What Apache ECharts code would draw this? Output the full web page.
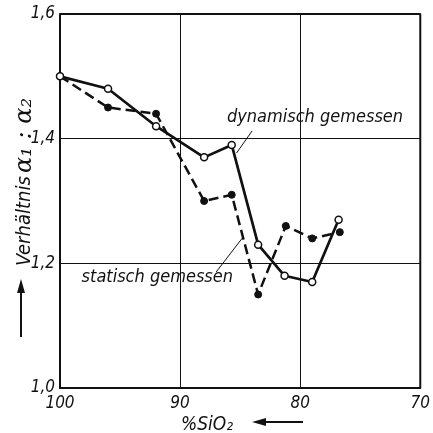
<!DOCTYPE html>
<html><head><meta charset="utf-8">
<script src="https://cdn.jsdelivr.net/npm/echarts@6/dist/echarts.min.js"></script>
<style>html,body{margin:0;padding:0;background:#fff}#c{width:433px;height:433px}</style>
</head><body><div id="c"></div>
<script>
const sio2 = [100, 96, 92, 88, 85.7, 83.5, 81.3, 79.0, 76.8];
const dynamisch = [1.50, 1.48, 1.42, 1.37, 1.39, 1.23, 1.18, 1.17, 1.27];
const sio2Static = [100, 96, 92, 88, 85.7, 83.5, 81.2, 79.0, 76.7];
const statisch = [1.50, 1.45, 1.44, 1.30, 1.31, 1.15, 1.26, 1.24, 1.25];
const xTicks = [70, 80, 90, 100];
const yTicks = [1.0, 1.2, 1.4, 1.6];
const labelDyn = 'dynamisch gemessen';
const labelStat = 'statisch gemessen';
const yTitleWord = 'Verhältnis';
const yTitleSym = 'α₁ : α₂';
const xTitle = '%SiO₂';

const FONT = '"Liberation Sans Narrow","DejaVu Sans Condensed","DejaVu Sans",sans-serif';
const chart = echarts.init(document.getElementById('c'));
const fmtY = v => (Math.round(v * 10) / 10).toFixed(1).replace('.', ',');
chart.setOption({
  animation: false,
  backgroundColor: '#fff',
  grid: { left: 60, right: 11, top: 14, bottom: 45, show: false },
  xAxis: {
    type: 'value', inverse: true, min: 70, max: 100, interval: 10,
    axisLine: { show: true, lineStyle: { color: '#111', width: 2 } },
    axisTick: { show: false },
    splitLine: { show: true, lineStyle: { color: '#111', width: 1 } },
    axisLabel: { fontFamily: FONT, fontStyle: 'italic', fontSize: 17, color: '#111', margin: 7,
      formatter: v => xTicks.includes(v) ? String(v) : '' }
  },
  yAxis: {
    type: 'value', min: 1.0, max: 1.6, interval: 0.2,
    axisLine: { show: true, lineStyle: { color: '#111', width: 2 } },
    axisTick: { show: false },
    splitLine: { show: true, lineStyle: { color: '#111', width: 1 } },
    axisLabel: { fontFamily: FONT, fontStyle: 'italic', fontSize: 17, color: '#111', margin: 5,
      formatter: v => yTicks.some(t => Math.abs(t - v) < 1e-6) ? fmtY(v) : '' }
  },
  series: [
    { type: 'line', name: labelStat, data: sio2Static.map((x, i) => [x, statisch[i]]),
      symbol: 'circle', symbolSize: 7,
      itemStyle: { color: '#111', borderColor: '#111', borderWidth: 1 },
      lineStyle: { color: '#111', width: 2.5, type: [10, 5] }, z: 3 },
    { type: 'line', name: labelDyn, data: sio2.map((x, i) => [x, dynamisch[i]]),
      symbol: 'circle', symbolSize: 7,
      itemStyle: { color: '#fff', borderColor: '#111', borderWidth: 1.5 },
      lineStyle: { color: '#111', width: 2.7 }, z: 4 },
    { type: 'line', data: [[100,1.6],[70,1.6],[70,1.0]], symbol: 'none', silent: true,
      lineStyle: { color: '#111', width: 2 }, z: 2 }
  ]
});

const p = (x, y) => chart.convertToPixel({ gridIndex: 0 }, [x, y]);
const dynLabelPos = p(86.1, 1.435);
const statLabelPos = p(98.2, 1.177);
const dynL1 = p(84.0, 1.4125), dynL2 = p(85.3, 1.377);
const statL1 = p(87.0, 1.186), statL2 = p(84.8, 1.241);
chart.setOption({
  graphic: [
    { type: 'text', x: dynLabelPos[0], y: dynLabelPos[1],
      style: { text: labelDyn, font: 'italic 18px ' + FONT, fill: '#111', verticalAlign: 'middle' } },
    { type: 'line', shape: { x1: dynL1[0], y1: dynL1[1], x2: dynL2[0], y2: dynL2[1] },
      style: { stroke: '#111', lineWidth: 1 } },
    { type: 'text', x: statLabelPos[0], y: statLabelPos[1],
      style: { text: labelStat, font: 'italic 18px ' + FONT, fill: '#111', verticalAlign: 'middle' } },
    { type: 'line', shape: { x1: statL1[0], y1: statL1[1], x2: statL2[0], y2: statL2[1] },
      style: { stroke: '#111', lineWidth: 1 } },
    // y title with arrow
    { type: 'text', x: 25, y: 182, rotation: Math.PI / 2,
      style: { text: '{w|' + yTitleWord + '} {s|' + yTitleSym + '}', align: 'center', verticalAlign: 'middle',
        rich: { w: { font: 'italic 20px ' + FONT, fill: '#111' },
                s: { font: 'italic 24px "DejaVu Serif",serif', fill: '#111' } } } },
    { type: 'line', shape: { x1: 21, y1: 337, x2: 21, y2: 292 }, style: { stroke: '#111', lineWidth: 2 } },
    { type: 'polygon', shape: { points: [[21, 279], [17, 293], [25, 293]] }, style: { fill: '#111' } },
    // x title with arrow
    { type: 'text', x: 207, y: 425,
      style: { text: xTitle, font: 'italic 19px ' + FONT, fill: '#111', align: 'center', verticalAlign: 'middle' } },
    { type: 'line', shape: { x1: 303, y1: 422, x2: 265, y2: 422 }, style: { stroke: '#111', lineWidth: 2 } },
    { type: 'polygon', shape: { points: [[252, 422], [266, 418], [266, 426]] }, style: { fill: '#111' } }
  ]
});
</script></body></html>
